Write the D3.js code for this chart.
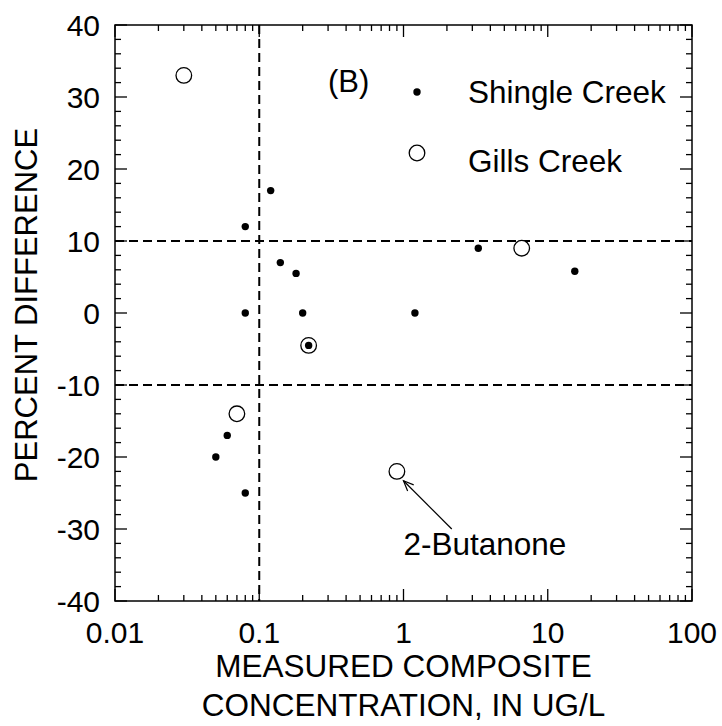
<!DOCTYPE html>
<meta charset="utf-8">
<style>
  html, body { margin: 0; padding: 0; background: #fff; }
  svg { display: block; font-family: "Liberation Sans", Arial, Helvetica, sans-serif; }
  .frame { fill: none; stroke: #000; stroke-width: 1.5px; }
  .tick { stroke: #000; stroke-width: 1.3px; }
  .ref { stroke: #000; stroke-width: 2px; stroke-dasharray: 9 5; fill: none; }
</style>
<svg id="chart" width="722" height="726"></svg>
<script src="https://cdn.jsdelivr.net/npm/d3@7"></script>
<script>
  // Shingle Creek (filled dots)
  const shingleX = [0.12, 0.08, 0.14, 0.18, 0.08, 0.2, 0.22, 1.2, 3.3, 15.4, 0.06, 0.05, 0.08];
  const shingleY = [17, 12, 7, 5.5, 0, 0, -4.5, 0, 9, 5.8, -17, -20, -25];
  // Gills Creek (open circles)
  const gillsX = [0.03, 0.22, 0.07, 0.9, 6.6];
  const gillsY = [33, -4.5, -14, -22, 9];

  const xTickLabels = ["0.01", "0.1", "1", "10", "100"];
  const yTickLabels = ["40", "30", "20", "10", "0", "-10", "-20", "-30", "-40"];

  const margin = { left: 115, right: 30, top: 25, bottom: 125 };
  const W = 722, H = 726;
  const svg = d3.select("#chart");

  let x = d3.scaleLog().domain([0.01, 100]).range([margin.left, W - margin.right]);
  let y = d3.scaleLinear().domain([-40, 40]).range([H - margin.bottom, margin.top]);

  const x0 = x.range()[0], x1 = x.range()[1];
  const y0 = y.range()[0], y1 = y.range()[1];

  // minor/major ticks
  let xMinor = [];
  for (let d = 0.01; d < 100; d *= 10)
    for (let k = 2; k <= 9; k++) xMinor.push(d * k);
  let xMajor = xTickLabels.map(Number);
  let yMinor = d3.range(-40, 41, 2).filter(v => v % 10 !== 0);
  let yMajor = yTickLabels.map(Number);

  const g = svg.append("g");

  function xTicks(vals, len) {
    vals.forEach(v => {
      g.append("line").attr("class", "tick")
        .attr("x1", x(v)).attr("x2", x(v)).attr("y1", y0).attr("y2", y0 - len);
      g.append("line").attr("class", "tick")
        .attr("x1", x(v)).attr("x2", x(v)).attr("y1", y1).attr("y2", y1 + len);
    });
  }
  function yTicks(vals, len) {
    vals.forEach(v => {
      g.append("line").attr("class", "tick")
        .attr("x1", x0).attr("x2", x0 + len).attr("y1", y(v)).attr("y2", y(v));
      g.append("line").attr("class", "tick")
        .attr("x1", x1).attr("x2", x1 - len).attr("y1", y(v)).attr("y2", y(v));
    });
  }
  xTicks(xMinor, 6);
  xTicks(xMajor, 12);
  yTicks(yMinor, 6);
  yTicks(yMajor, 12);

  // reference lines
  g.append("line").attr("class", "ref")
    .attr("x1", x(0.1)).attr("x2", x(0.1)).attr("y1", y1).attr("y2", y0);
  [10, -10].forEach(v => {
    g.append("line").attr("class", "ref")
      .attr("x1", x0).attr("x2", x1).attr("y1", y(v)).attr("y2", y(v));
  });

  g.append("rect").attr("class", "frame")
    .attr("x", x0).attr("y", y1).attr("width", x1 - x0).attr("height", y0 - y1);

  // tick labels
  g.selectAll(".xl").data(xTickLabels).join("text")
    .attr("x", d => x(+d)).attr("y", y0 + 42)
    .attr("text-anchor", "middle").attr("font-size", 30).text(d => d);
  g.selectAll(".yl").data(yTickLabels).join("text")
    .attr("x", x0 - 15).attr("y", d => y(+d) + 10.5)
    .attr("text-anchor", "end").attr("font-size", 30).text(d => d);

  // axis titles
  g.append("text").attr("x", (x0 + x1) / 2).attr("y", 677)
    .attr("text-anchor", "middle").attr("font-size", 31.5).text("MEASURED COMPOSITE");
  g.append("text").attr("x", (x0 + x1) / 2).attr("y", 716)
    .attr("text-anchor", "middle").attr("font-size", 31.5).text("CONCENTRATION, IN UG/L");
  g.append("text").attr("transform", "translate(37,305) rotate(-90)")
    .attr("text-anchor", "middle").attr("font-size", 31).text("PERCENT DIFFERENCE");

  // points
  g.selectAll(".gills").data(gillsX).join("circle")
    .attr("cx", d => x(d)).attr("cy", (d, i) => y(gillsY[i])).attr("r", 7.8)
    .attr("fill", "#fff").attr("stroke", "#000").attr("stroke-width", 1.3);
  g.selectAll(".shingle").data(shingleX).join("circle")
    .attr("cx", d => x(d)).attr("cy", (d, i) => y(shingleY[i])).attr("r", 3.7)
    .attr("fill", "#000");

  // panel label and legend
  g.append("text").attr("x", 328).attr("y", 92).attr("font-size", 31).text("(B)");
  g.append("circle").attr("cx", 417).attr("cy", 92).attr("r", 3.7).attr("fill", "#000");
  g.append("text").attr("x", 468).attr("y", 103).attr("font-size", 31.5).text("Shingle Creek");
  g.append("circle").attr("cx", 417).attr("cy", 153).attr("r", 7.8)
    .attr("fill", "#fff").attr("stroke", "#000").attr("stroke-width", 1.3);
  g.append("text").attr("x", 468).attr("y", 172).attr("font-size", 31.5).text("Gills Creek");

  // 2-Butanone annotation
  const head = [x(1.0), y(-23.3)], tail = [x(2.16), y(-30)];
  g.append("line").attr("x1", tail[0]).attr("y1", tail[1]).attr("x2", head[0]).attr("y2", head[1])
    .attr("stroke", "#000").attr("stroke-width", 1.2);
  const ang = Math.atan2(tail[1] - head[1], tail[0] - head[0]);
  const hl = 11, spread = 0.4;
  const arrow = d3.path();
  arrow.moveTo(head[0] + hl * Math.cos(ang - spread), head[1] + hl * Math.sin(ang - spread));
  arrow.lineTo(head[0], head[1]);
  arrow.lineTo(head[0] + hl * Math.cos(ang + spread), head[1] + hl * Math.sin(ang + spread));
  g.append("path").attr("d", arrow.toString())
    .attr("fill", "none").attr("stroke", "#000").attr("stroke-width", 1.2);
  g.append("text").attr("x", x(1.0)).attr("y", y(-33.6)).attr("font-size", 31.5).text("2-Butanone");
</script>
